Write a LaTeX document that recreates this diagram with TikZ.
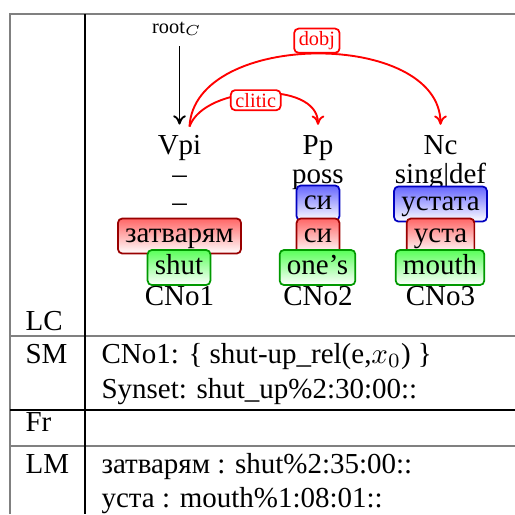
\documentclass[tikz,border=0pt]{standalone}
\usepackage{fontspec}
\setmainfont{Liberation Serif}
\usetikzlibrary{arrows.meta, positioning, calc}

\tikzset{
  tag/.style={anchor=base},
  rowlbl/.style={anchor=base west, inner sep=0pt},
  cell/.style={anchor=base west, inner sep=0pt},
  wbox/.style={draw, rounded corners=1.5pt, line width=0.6pt, text height=7pt, text depth=2.3pt, inner xsep=2.5pt, inner ysep=1.4pt},
  bluebox/.style={wbox, draw=blue!75!black, top color=blue!60, bottom color=white},
  redbox/.style={wbox, draw=red!60!black, top color=red!60, bottom color=white},
  greenbox/.style={wbox, draw=green!60!black, top color=green!65, bottom color=white},
  rel/.style={->, red, line width=0.65pt},
  lbl/.style={draw=red, fill=white, text=red, rounded corners=1.5pt, font=\scriptsize, inner xsep=1.6pt, inner ysep=1pt, line width=0.6pt}
}

\begin{document}
\begin{tikzpicture}[x=0.345pt, y=-0.345pt, >={To[length=3.2pt, width=4.4pt]}, font=\fontsize{10}{12}\selectfont]
    \useasboundingbox (0,0) rectangle (515,514);

    % Table
    \draw[gray, line width=0.7pt] (10,514) -- (10,14) -- (515,14);
    \draw[gray, line width=0.7pt] (10,336) -- (515,336);
    \draw[line width=0.45pt] (10,410) -- (515,410);
    \draw[gray, line width=0.7pt] (10,446) -- (515,446);
    \draw[line width=0.45pt] (85,14) -- (85,514);

    % Row labels
    \node[rowlbl] (lc) at (25,330) {LC};
    \node[rowlbl] (sm) at (25,363) {SM};
    \node[rowlbl] (fr) at (25,431) {Fr};
    \node[rowlbl] (lm) at (25,473) {LM};

    % Categories
    \node[tag] (vpi) at (179.5,154) {Vpi};
    \node[tag] (pp) at (318,154) {Pp};
    \node[tag] (nc) at (440.5,154) {Nc};
    \node[tag] (vpifeat) at (179.5,183) {--};
    \node[tag] (ppfeat) at (318,183) {poss};
    \node[tag] (ncfeat) at (440.5,183) {sing|def};
    \node[tag] (vpiform) at (179.5,211) {--};

    % Word forms
    \node[bluebox] (si) at (318,203) {си};
    \node[bluebox] (ustata) at (440.5,204) {устата};
    \node[redbox] (zatvaryam) at (179.5,236) {затварям};
    \node[redbox] (silemma) at (318,236) {си};
    \node[redbox] (usta) at (440.5,236) {уста};
    \node[greenbox] (shut) at (179,267.5) {shut};
    \node[greenbox] (ones) at (317.5,267.5) {one's};
    \node[greenbox] (mouth) at (440,267.5) {mouth};

    % Concept numbers
    \node[tag] (cnoa) at (179.5,305) {CNo1};
    \node[tag] (cnob) at (318,305) {CNo2};
    \node[tag] (cnoc) at (440.5,305) {CNo3};

    % Root and relations
    \node[tag, font=\scriptsize] (root) at (177,33) {root$_C$};
    \draw[->, line width=0.65pt] (root.south -| vpi.north) -- (vpi.north);
    \draw[rel] ($(vpi.north)+(10,2)$) .. controls +(15,-42) and +(0,-45) .. (pp.north)
        node[lbl, pos=0.48, yshift=-2.4pt] (clitic) {clitic};
    \draw[rel] ($(vpi.north)+(10,2)$) .. controls +(5,-97) and +(0,-95) .. (nc.north)
        node[lbl, pos=0.5, anchor=south] (dobj) {dobj};

    % Cells
    \node[cell] (smline) at (101,363) {CNo1: \{ shut-up\_rel(e,$x_0$) \}};
    \node[cell] (synset) at (101,398) {Synset: shut\_up\%2:30:00::};
    \node[cell] (lmline) at (101,473) {затварям : shut\%2:35:00::};
    \node[cell] (lmusta) at (101,507) {уста : mouth\%1:08:01::};
\end{tikzpicture}
\end{document}
